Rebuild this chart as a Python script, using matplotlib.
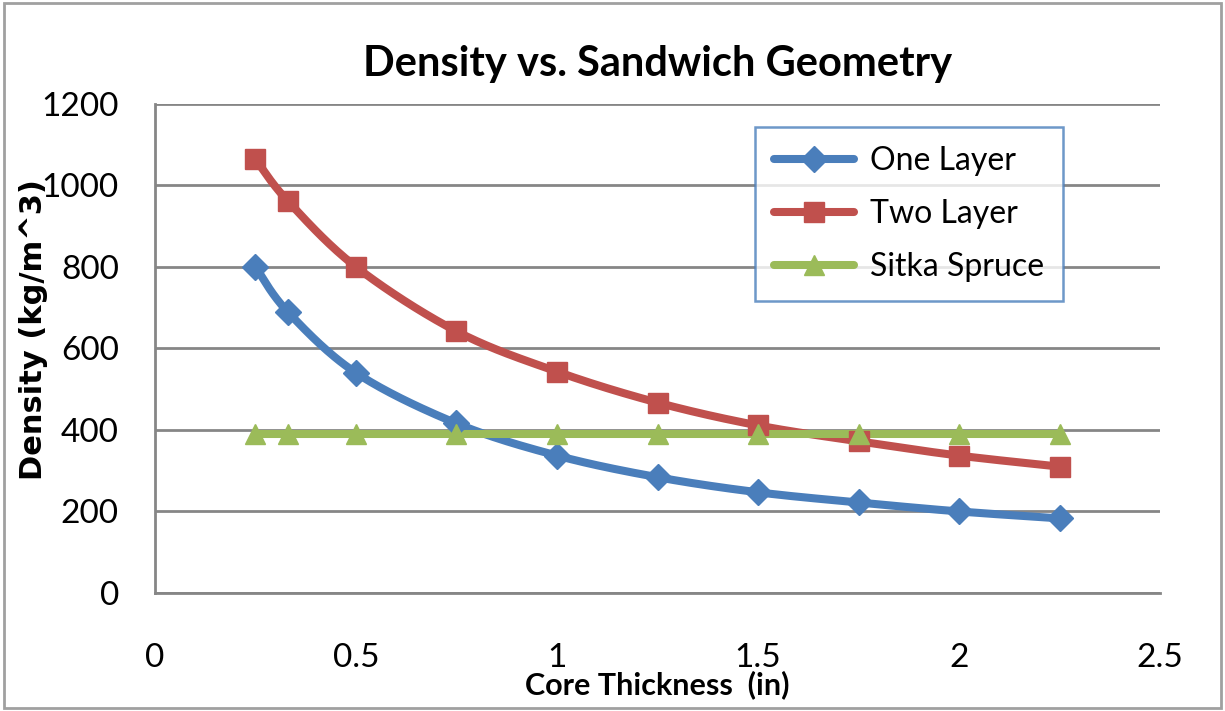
import matplotlib

matplotlib.use("Agg")
import matplotlib.pyplot as plt
import numpy as np
from matplotlib.lines import Line2D
from matplotlib.patches import Rectangle

plt.rcParams["font.family"] = ["Lato", "DejaVu Sans"]

core_in = [0.25, 0.33, 0.5, 0.75, 1.0, 1.25, 1.5, 1.75, 2.0, 2.25]
one_layer = [800, 690, 540, 416, 337, 284, 247, 222, 200, 183]
two_layer = [1064, 962, 800, 642, 543, 467, 411, 372, 337, 310]
sitka = [390] * len(core_in)

BLUE = "#4a7ebb"
RED = "#c0504d"
GREEN = "#9bbb59"
GRID = "#868686"


def smooth(xs, ys, xr, yr, n=30):
    # Catmull-Rom through the points, done in axis-normalised units
    p = np.column_stack([np.asarray(xs, float) / xr, np.asarray(ys, float) / yr])
    p = np.vstack([p[0], p, p[-1]])
    out = []
    for i in range(1, len(p) - 2):
        p0, p1, p2, p3 = p[i - 1], p[i], p[i + 1], p[i + 2]
        t = np.linspace(0, 1, n, endpoint=False)[:, None]
        seg = 0.5 * ((2 * p1) + (-p0 + p2) * t + (2 * p0 - 5 * p1 + 4 * p2 - p3) * t ** 2
                     + (-p0 + 3 * p1 - 3 * p2 + p3) * t ** 3)
        out.append(seg)
    out.append(p[-2][None, :])
    out = np.vstack(out)
    return out[:, 0] * xr, out[:, 1] * yr


fig = plt.figure(figsize=(12.25, 7.11), dpi=100)
ax = fig.add_axes([0.1265, 0.166, 0.8205, 0.688])

series = [
    (one_layer, BLUE, "D", 13, "One Layer"),
    (two_layer, RED, "s", 14, "Two Layer"),
    (sitka, GREEN, "^", 14, "Sitka Spruce"),
]
for ys, col, mk, ms, name in series:
    sx, sy = smooth(core_in, ys, 2.5, 1200)
    ax.plot(sx, sy, color=col, lw=5.8, solid_capstyle="round", zorder=3)
    ax.plot(core_in, ys, ls="none", marker=mk, ms=ms, color=col, mec=col, zorder=4)

ax.set_xlim(0, 2.5)
ax.set_ylim(0, 1200)
ax.set_xticks([0, 0.5, 1, 1.5, 2, 2.5])
ax.set_xticklabels(["0", "0.5", "1", "1.5", "2", "2.5"])
ax.set_yticks(range(0, 1201, 200))
ax.yaxis.grid(True, color=GRID, lw=2)
ax.set_axisbelow(True)
for s in ("top", "right"):
    ax.spines[s].set_visible(False)
for s in ("left", "bottom"):
    ax.spines[s].set_color(GRID)
    ax.spines[s].set_linewidth(2)
ax.tick_params(axis="both", length=0, labelsize=24)
ax.tick_params(axis="x", pad=36)
ax.tick_params(axis="y", pad=26)

ax.set_title("Density vs. Sandwich Geometry", fontsize=30, fontweight="bold", pad=20)
ax.set_xlabel("Core Thickness  (in)", fontsize=22, fontweight="bold", labelpad=-2)
ax.set_ylabel("Density (kg/m^3)", fontsize=22, fontweight="bold",
              family=["DejaVu Sans"])
ax.yaxis.set_label_coords(-0.106, 0.538)

handles = [Line2D([], [], color=c, lw=5.8, marker=m, ms=ms, mec=c, solid_capstyle="round")
           for _, c, m, ms, _ in series]
leg = ax.legend(handles, [s[4] for s in series], loc="upper right",
                bbox_to_anchor=(0.9035, 0.953), borderaxespad=0, fontsize=23,
                frameon=True, fancybox=False, edgecolor=BLUE, handlelength=2.5,
                labelspacing=0.72, borderpad=0.6, handletextpad=0.5)
leg.get_frame().set_linewidth(1.8)

fig.patches.append(Rectangle((0.003, 0.004), 0.994, 0.992, transform=fig.transFigure,
                             fill=False, edgecolor="#a0a0a0", lw=2))

fig.savefig("out.png", dpi=100)
